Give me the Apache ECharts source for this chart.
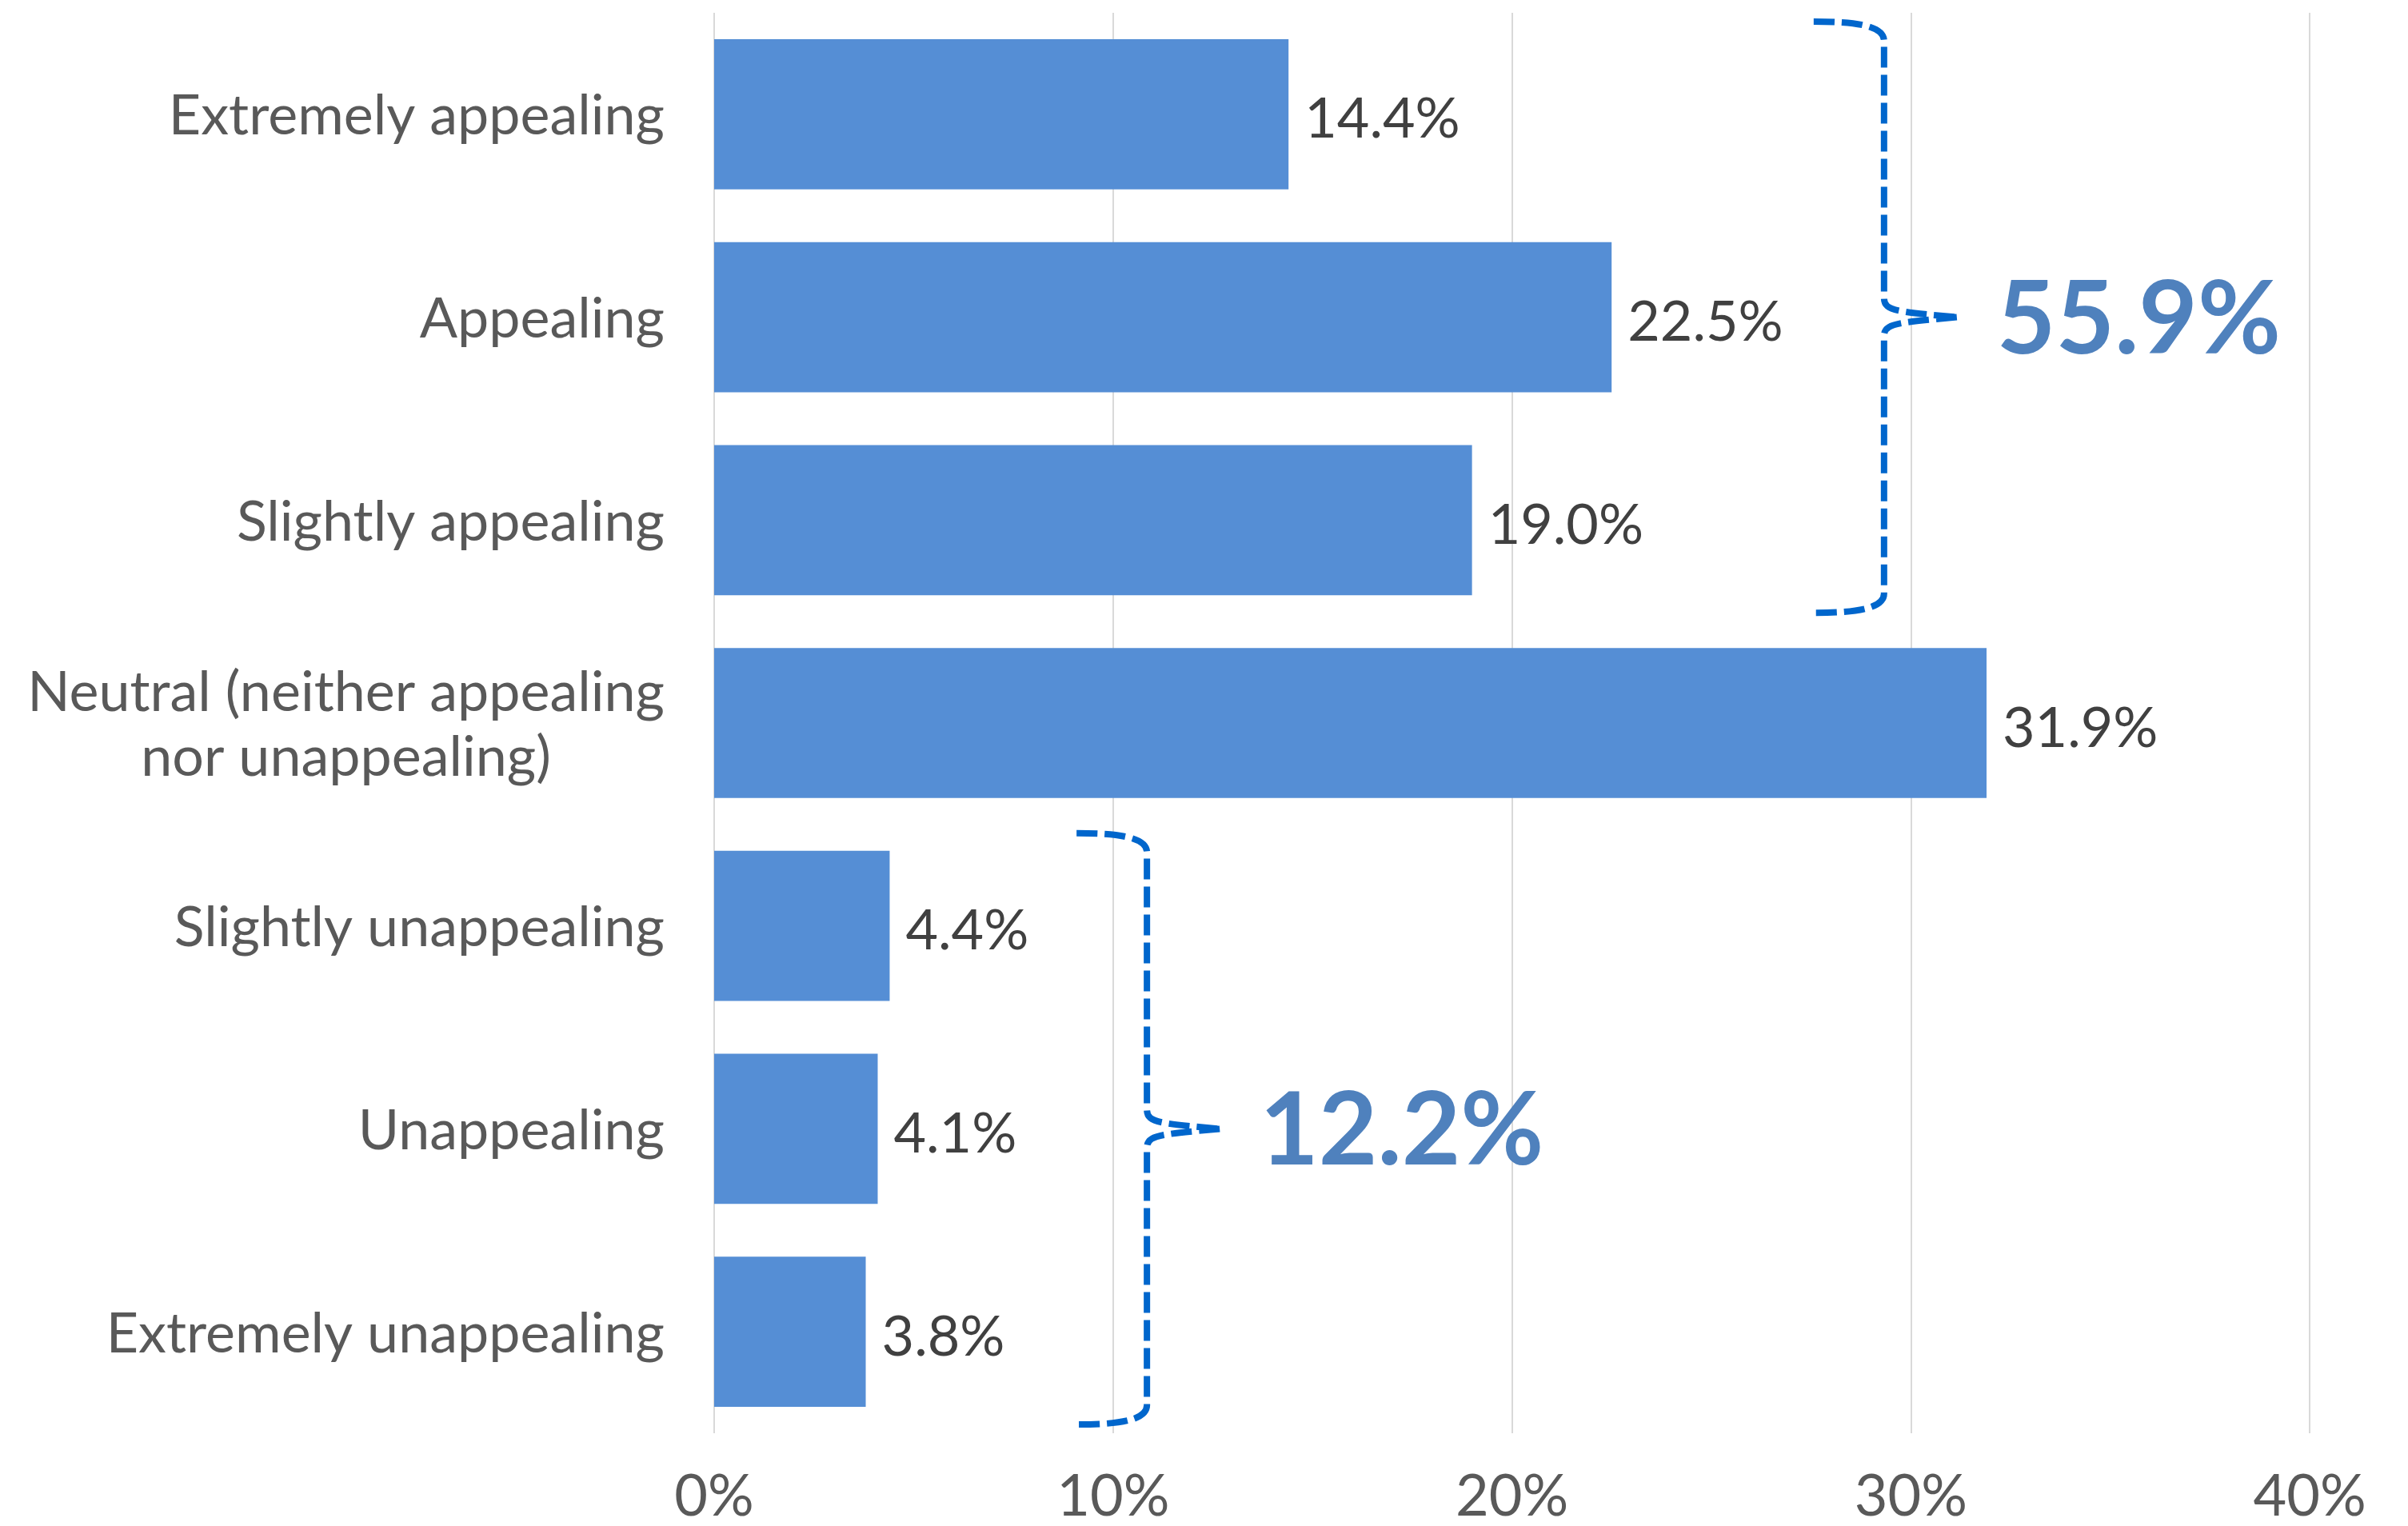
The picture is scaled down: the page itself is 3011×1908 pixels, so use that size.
<!DOCTYPE html>
<html>
<head>
<meta charset="utf-8">
<script src="https://cdn.jsdelivr.net/npm/echarts@6/dist/echarts.min.js"></script>
<style>
  html, body { margin: 0; padding: 0; background: #ffffff; }
  #chart { width: 3011px; height: 1908px; }
</style>
</head>
<body>
<div id="chart"></div>
<script>
// Appeal ratings, top to bottom
const categories = [
  'Extremely appealing',
  'Appealing',
  'Slightly appealing',
  'Neutral (neither appealing\nnor unappealing)',
  'Slightly unappealing',
  'Unappealing',
  'Extremely unappealing'
];
const shares = [14.4, 22.5, 19.0, 31.9, 4.4, 4.1, 3.8];

// Axis scale (percent)
const axisMin = 0;
const axisMax = 40;
const axisStep = 10;

// Grouped totals shown beside the braces: first and last category of each group
const groupStart = [0, 4];
const groupEnd = [2, 6];
const groupTotals = [55.9, 12.2];

// Where each brace stands on the value axis
const bracePos = [29.33, 10.85];

const FONT = 'Lato, "Open Sans", sans-serif';
const BRACE_COLOR = '#0066CC';
const TOTAL_COLOR = '#4F81BD';

const braceData = groupTotals.map((t, i) => [bracePos[i], groupStart[i], groupEnd[i], t]);

function renderBrace(params, api) {
  const v = api.value(0);
  const p0 = api.coord([v, api.value(1)]);
  const p1 = api.coord([v, api.value(2)]);
  const band = api.size([0, 1])[1];
  const x = p0[0];
  const mid = (p0[1] + p1[1]) / 2;
  const half = (p1[1] - p0[1]) / 2 + band * 0.457;
  const y0 = mid - half;
  const y1 = mid + half;
  const arm = 88;   // reach of the end arms to the left
  const tip = 91;   // reach of the centre point to the right
  const r = 24;
  const d = [
    'M', x - arm, y0,
    'C', x - 40, y0, x, y0 + 4, x, y0 + r,
    'L', x, mid - r,
    'C', x, mid - 8, x + 14, mid - 7, x + tip, mid,
    'M', x + tip, mid,
    'C', x + 14, mid + 7, x, mid + 8, x, mid + r,
    'L', x, y1 - r,
    'C', x, y1 - 4, x - 40, y1, x - arm, y1
  ].join(' ');
  return {
    type: 'group',
    children: [
      {
        type: 'path',
        shape: { pathData: d },
        style: {
          fill: null,
          stroke: BRACE_COLOR,
          lineWidth: 8,
          lineDash: [26, 9],
          lineCap: 'butt'
        }
      },
      {
        type: 'text',
        style: {
          x: x + tip + 50,
          y: mid + 4,
          text: api.value(3).toFixed(1) + '%',
          fill: TOTAL_COLOR,
          font: 'bold 127px ' + FONT,
          align: 'left',
          verticalAlign: 'middle'
        }
      }
    ]
  };
}

const chart = echarts.init(document.getElementById('chart'), null, { renderer: 'canvas' });
chart.setOption({
  animation: false,
  backgroundColor: '#ffffff',
  grid: { left: 893, right: 123, top: 16, bottom: 115, containLabel: false },
  xAxis: {
    type: 'value',
    min: axisMin,
    max: axisMax,
    interval: axisStep,
    axisLine: { show: false },
    axisTick: { show: false },
    splitLine: { show: true, lineStyle: { color: '#D9D9D9', width: 2 } },
    axisLabel: {
      formatter: '{value}%',
      color: '#595959',
      fontFamily: FONT,
      fontSize: 72,
      margin: 44
    }
  },
  yAxis: {
    type: 'category',
    data: categories,
    inverse: true,
    axisLine: { show: false },
    axisTick: { show: false },
    splitLine: { show: false },
    axisLabel: {
      margin: 62,
      align: 'right',
      formatter: function (v) { return '{c|' + v + '}'; },
      rich: {
        c: {
          color: '#595959',
          fontFamily: FONT,
          fontSize: 70,
          lineHeight: 81,
          align: 'center',
          padding: [6, 0, 0, 0]
        }
      }
    }
  },
  series: [
    {
      type: 'bar',
      data: shares,
      barCategoryGap: '26%',
      itemStyle: { color: '#558ED5' },
      label: {
        show: true,
        position: 'right',
        distance: 20,
        offset: [0, 7],
        color: '#404040',
        fontFamily: FONT,
        fontSize: 70,
        formatter: function (p) { return p.value.toFixed(1) + '%'; }
      }
    },
    {
      type: 'custom',
      data: braceData,
      clip: false,
      silent: true,
      z: 5,
      renderItem: renderBrace
    }
  ]
});
</script>
</body>
</html>
